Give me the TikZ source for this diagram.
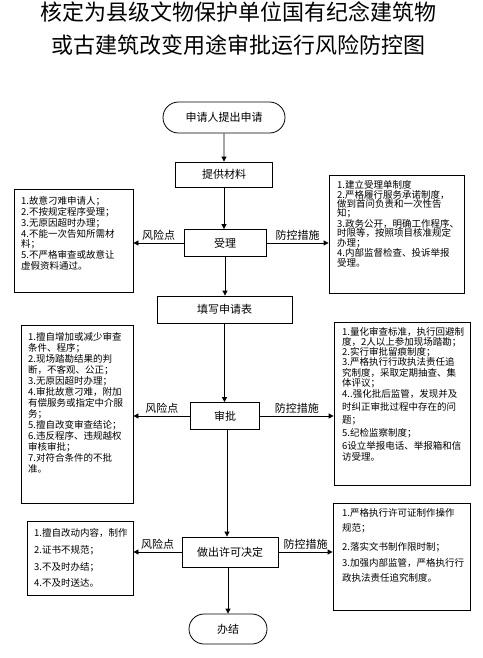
\documentclass[tikz,border=0pt]{standalone}
\usepackage{fontspec}
\setmainfont{Noto Sans CJK SC}
\usetikzlibrary{arrows.meta,shapes.misc}
\begin{document}
\begin{tikzpicture}[x=1pt,y=-1pt,
  every node/.style={inner sep=0pt},
  mainbox/.style={draw,line width=0.8pt,font=\fontsize{11pt}{13pt}\selectfont},
  termbox/.style={draw,line width=0.8pt,rounded rectangle,font=\fontsize{11pt}{13pt}\selectfont},
  listbox/.style={draw,line width=0.8pt},
  listtext/.style={anchor=north west,align=left},
  arr/.style={line width=0.8pt,-{Triangle[length=5pt,width=5pt]}},
  lbl/.style={font=\fontsize{11pt}{13pt}\selectfont,above=2pt}
]
\useasboundingbox (0,0) rectangle (482,658);

% title
\node[anchor=north,align=center,font=\fontsize{22pt}{33pt}\selectfont] (title) at (238,1.4)
  {核定为县级文物保护单位国有纪念建筑物\\或古建筑改变用途审批运行风险防控图};

% main flow
\node[termbox,minimum width=122pt,minimum height=31pt] (start) at (224,117.5) {申请人提出申请};
\node[mainbox,minimum width=97pt,minimum height=25pt] (cailiao) at (224,174.5) {提供材料};
\node[mainbox,minimum width=82pt,minimum height=27pt] (shouli) at (225,243) {受理};
\node[mainbox,minimum width=135pt,minimum height=27pt] (tianxie) at (224.5,309.5) {填写申请表};
\node[mainbox,minimum width=69pt,minimum height=27pt] (shenpi) at (225,416) {审批};
\node[mainbox,minimum width=96pt,minimum height=30pt] (zuochu) at (230,552) {做出许可决定};
\node[termbox,minimum width=78pt,minimum height=30pt] (banjie) at (228,629) {办结};

% side boxes
\node[listbox,minimum width=119pt,minimum height=103pt] (risk1) at (73.5,240.5) {};
\node[listbox,minimum width=135pt,minimum height=118pt] (ctrl1) at (396.5,234) {};
\node[listbox,minimum width=112pt,minimum height=178pt] (risk2) at (77,414) {};
\node[listbox,minimum width=136pt,minimum height=163pt] (ctrl2) at (402,403.5) {};
\node[listbox,minimum width=106pt,minimum height=74pt] (risk3) at (80,558) {};
\node[listbox,minimum width=137pt,minimum height=107pt] (ctrl3) at (401.5,556.5) {};

% side texts
\node[listtext,font=\fontsize{9.5pt}{10.9pt}\selectfont] (risk1t) at (21,196.1)
  {1.故意刁难申请人；\\2.不按规定程序受理；\\3.无原因超时办理；\\4.不能一次告知所需材\\料；\\5.不严格审查或故意让\\虚假资料通过。};
\node[listtext,font=\fontsize{9.5pt}{9.4pt}\selectfont] (ctrl1t) at (337,180.4)
  {1.建立受理单制度\\2.严格履行服务承诺制度，\\做到首问负责和一次性告\\知；\\3.政务公开，明确工作程序、\\时限等，按照项目核准规定\\办理；\\4.内部监督检查、投诉举报\\受理。};
\node[listtext,font=\fontsize{9.5pt}{11pt}\selectfont] (risk2t) at (28,332.1)
  {1.擅自增加或减少审查\\条件、程序；\\2.现场踏勘结果的判\\断，不客观、公正；\\3.无原因超时办理；\\4.审批故意刁难，附加\\有偿服务或指定中介服\\务；\\5.擅自改变审查结论；\\6.违反程序、违规越权\\审核审批；\\7.对符合条件的不批\\准。};
\node[listtext,font=\fontsize{9.5pt}{10.2pt}\selectfont] (ctrl2t) at (342,327.1)
  {1.量化审查标准，执行回避制\\度，2人以上参加现场踏勘；\\2.实行审批留痕制度；\\3.严格执行行政执法责任追\\究制度，采取定期抽查、集\\体评议；\\[1pt]4..强化批后监管，发现并及\\[3pt]时纠正审批过程中存在的问\\[3pt]题；\\[2.5pt]5.纪检监察制度；\\[2.5pt]6设立举报电话、举报箱和信\\[1pt]访受理。};
\node[listtext,font=\fontsize{9.5pt}{16.7pt}\selectfont] (risk3t) at (34,528.4)
  {1.擅自改动内容，制作\\2.证书不规范；\\3.不及时办结；\\4.不及时送达。};
\node[listtext,font=\fontsize{9.5pt}{15.3pt}\selectfont] (ctrl3t) at (342,508.4)
  {1.严格执行许可证制作操作\\规范；\\[3.7pt]2.落实文书制作限时制；\\3.加强内部监管，严格执行行\\政执法责任追究制度。};

% vertical flow
\draw[arr] (start) -- (cailiao);
\draw[arr] (cailiao) -- (cailiao |- shouli.north);
\draw[arr] (shouli.south) -- (shouli.south |- tianxie.north);
\draw[arr] (tianxie) -- (tianxie |- shenpi.north);
\draw[arr] ([xshift=2pt]shenpi.south) -- ([xshift=2pt]shenpi.south |- zuochu.north);
\draw[arr] (banjie.north |- zuochu.south) -- (banjie.north);

% horizontal arrows
\draw[arr] (shouli.west) -- node[lbl]{风险点} (shouli.west -| risk1.east);
\draw[arr] (shouli.east) -- node[lbl]{防控措施} (shouli.east -| ctrl1.west);
\draw[arr] (shenpi.west) -- node[lbl]{风险点} (shenpi.west -| risk2.east);
\draw[arr] (shenpi.east) -- node[lbl]{防控措施} (shenpi.east -| ctrl2.west);
\draw[arr] (zuochu.west) -- node[lbl]{风险点} (zuochu.west -| risk3.east);
\draw[arr] (zuochu.east) -- node[lbl]{防控措施} (zuochu.east -| ctrl3.west);
\end{tikzpicture}
\end{document}
